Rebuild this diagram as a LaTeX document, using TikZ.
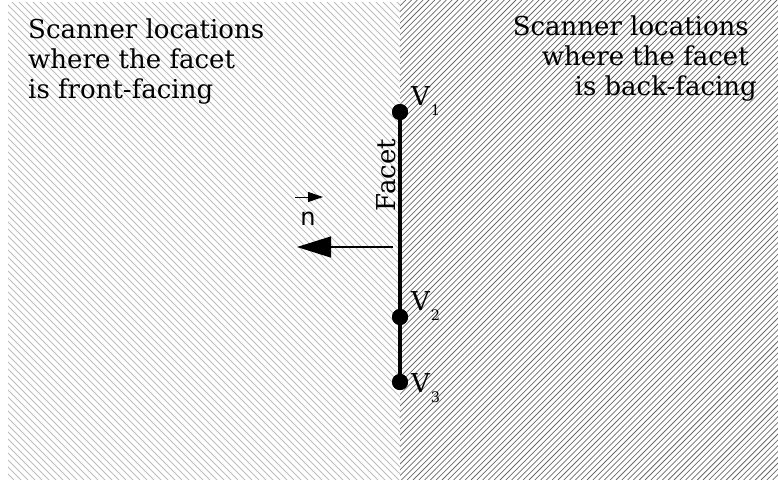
\documentclass[tikz,border=0pt]{standalone}
\usepackage{fontspec}
\setmainfont{DejaVu Serif}
\newfontfamily\vecfont{DejaVu Sans}
\usetikzlibrary{arrows.meta}
\definecolor{hatchlight}{HTML}{BDBDBD}
\definecolor{hatchdark}{HTML}{6A6A6A}
\tikzset{
  caption/.style={font=\fontsize{26}{30}\selectfont, inner sep=0pt},
  vlabel/.style={font=\fontsize{26}{30}\selectfont, inner sep=0pt, anchor=base west},
  vertex/.style={circle, fill=black, minimum size=16pt, inner sep=0pt},
  facetline/.style={line width=4pt},
  normalarrow/.style={line width=1.3pt, -{Triangle[length=34pt, width=21pt]}},
}
\newcommand{\vsub}[1]{\kern1pt\raisebox{-10pt}{\fontsize{14.5}{14.5}\selectfont #1}}
\begin{document}
\begin{tikzpicture}[x=1pt, y=-1pt]
\useasboundingbox (0,0) rectangle (778,479);
% front-facing half-space
\begin{scope}
  \clip (8,2) rectangle (400,479);
  \foreach \c in {-480,-473,...,400}
    \draw[hatchlight, line width=0.75pt] (\c,0) -- ++(480,480);
\end{scope}
% back-facing half-space
\begin{scope}
  \clip (400,0) rectangle (778,479);
  \foreach \c in {400,405.8,...,1270}
    \draw[hatchdark, line width=0.75pt] (\c,0) -- ++(-480,480);
\end{scope}
% region captions
\node[caption, anchor=base west] (l1) at (28,38) {Scanner locations};
\node[caption, anchor=base west] (l2) at (28,68) {where the facet};
\node[caption, anchor=base west] (l3) at (28,98) {is front-facing};
\node[caption, anchor=base east] (r1) at (749,35) {Scanner locations};
\node[caption, anchor=base east] (r2) at (749,65) {where the facet};
\node[caption, anchor=base east] (r3) at (757,95) {is back-facing};
% facet and its vertices
\node[vertex] (v1) at (400,112) {};
\node[vertex] (v2) at (400,317) {};
\node[vertex] (v3) at (400,382) {};
\draw[facetline] (v1.center) -- (v3.center);
\node[vertex] at (v1) {};
\node[vertex] at (v2) {};
\node[vertex] at (v3) {};
\node[vlabel] (t1) at (411,105) {V\vsub{1}};
\node[vlabel] (t2) at (411,310) {V\vsub{2}};
\node[vlabel] (t3) at (411,392) {V\vsub{3}};
\node[caption, rotate=90] (facet) at (386,175) {Facet};
% surface normal
\coordinate (nstart) at (393,247);
\coordinate (nend) at (297,247);
\draw[normalarrow] (nstart) -- (nend);
\node[inner sep=0pt, font=\vecfont\fontsize{24}{30}\selectfont, anchor=base] (nlab) at (308,225) {n};
\coordinate (va) at (295,197);
\coordinate (vb) at (323,197);
\draw[line width=1pt, -{Triangle[length=15pt, width=10pt]}] (va) -- (vb);
\end{tikzpicture}
\end{document}
